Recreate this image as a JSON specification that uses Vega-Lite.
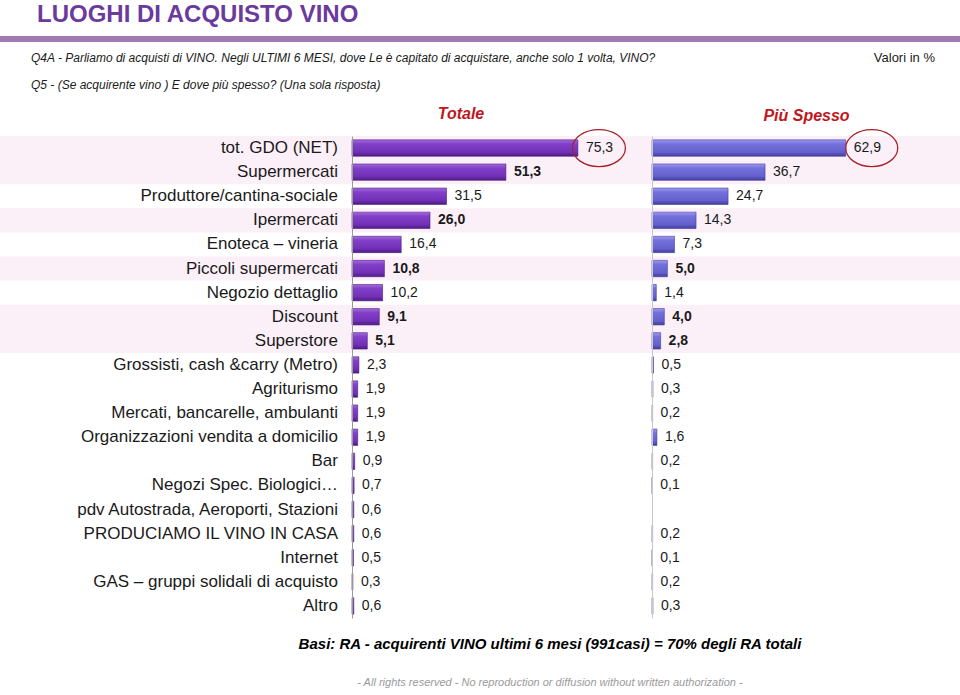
{
  "$schema": "https://vega.github.io/schema/vega-lite/v6.json",
  "padding": {"top": 3, "left": 0, "right": 0, "bottom": 0},
  "background": "#ffffff",
  "config": {
    "view": {"stroke": null},
    "font": "Liberation Sans",
    "locale": {"number": {"decimal": ",", "thousands": ".", "grouping": [3], "currency": ["€", ""]}},
    "concat": {"spacing": 0}
  },
  "datasets": {
    "luoghi": [
      {"luogo": "tot. GDO (NET)", "gruppo": "GDO", "totale": 75.3, "piu_spesso": 62.9},
      {"luogo": "Supermercati", "gruppo": "GDO", "totale": 51.3, "piu_spesso": 36.7},
      {"luogo": "Produttore/cantina-sociale", "gruppo": "Altri", "totale": 31.5, "piu_spesso": 24.7},
      {"luogo": "Ipermercati", "gruppo": "GDO", "totale": 26.0, "piu_spesso": 14.3},
      {"luogo": "Enoteca – vineria", "gruppo": "Altri", "totale": 16.4, "piu_spesso": 7.3},
      {"luogo": "Piccoli supermercati", "gruppo": "GDO", "totale": 10.8, "piu_spesso": 5.0},
      {"luogo": "Negozio dettaglio", "gruppo": "Altri", "totale": 10.2, "piu_spesso": 1.4},
      {"luogo": "Discount", "gruppo": "GDO", "totale": 9.1, "piu_spesso": 4.0},
      {"luogo": "Superstore", "gruppo": "GDO", "totale": 5.1, "piu_spesso": 2.8},
      {"luogo": "Grossisti, cash &carry (Metro)", "gruppo": "Altri", "totale": 2.3, "piu_spesso": 0.5},
      {"luogo": "Agriturismo", "gruppo": "Altri", "totale": 1.9, "piu_spesso": 0.3},
      {"luogo": "Mercati, bancarelle, ambulanti", "gruppo": "Altri", "totale": 1.9, "piu_spesso": 0.2},
      {"luogo": "Organizzazioni vendita a domicilio", "gruppo": "Altri", "totale": 1.9, "piu_spesso": 1.6},
      {"luogo": "Bar", "gruppo": "Altri", "totale": 0.9, "piu_spesso": 0.2},
      {"luogo": "Negozi Spec. Biologici…", "gruppo": "Altri", "totale": 0.7, "piu_spesso": 0.1},
      {"luogo": "pdv Autostrada, Aeroporti, Stazioni", "gruppo": "Altri", "totale": 0.6, "piu_spesso": null},
      {"luogo": "PRODUCIAMO IL VINO IN CASA", "gruppo": "Altri", "totale": 0.6, "piu_spesso": 0.2},
      {"luogo": "Internet", "gruppo": "Altri", "totale": 0.5, "piu_spesso": 0.1},
      {"luogo": "GAS – gruppi solidali di acquisto", "gruppo": "Altri", "totale": 0.3, "piu_spesso": 0.2},
      {"luogo": "Altro", "gruppo": "Altri", "totale": 0.6, "piu_spesso": 0.3}
    ]
  },
  "title": {"text": "LUOGHI DI ACQUISTO VINO", "anchor": "start", "dx": 37, "fontSize": 24, "fontWeight": "bold", "color": "#6A3A9C", "offset": 9},
  "spacing": 10,
  "vconcat": [
    {
      "width": 960, "height": 6,
      "data": {"values": [{}]},
      "mark": {"type": "rect", "color": "#A27BAE"},
      "encoding": {}
    },
    {
      "spacing": 0,
      "bounds": "flush",
      "title": {
        "text": "Basi:  RA - acquirenti  VINO ultimi 6 mesi  (991casi) = 70% degli RA totali",
        "subtitle": "- All rights reserved -  No reproduction or diffusion without written authorization -",
        "orient": "bottom", "anchor": "middle", "dx": 70, "offset": 19,
        "fontSize": 15, "fontWeight": "bold", "fontStyle": "italic", "color": "#000000",
        "subtitleFontSize": 11, "subtitleFontStyle": "italic", "subtitleColor": "#9a9a9a", "subtitlePadding": 25
      },
      "hconcat": [
        {
          "width": 352, "height": 482,
          "data": {"name": "luoghi"},
          "title": {
            "text": "Q4A - Parliamo di acquisti di VINO. Negli ULTIMI 6 MESI, dove Le è capitato di acquistare, anche solo 1 volta, VINO?",
            "subtitle": "Q5 -   (Se acquirente vino ) E dove più spesso? (Una sola risposta)",
            "anchor": "start", "dx": 31, "offset": 44,
            "fontSize": 12, "fontWeight": "normal", "fontStyle": "italic", "color": "#1a1a1a",
            "subtitleFontSize": 12, "subtitleFontStyle": "italic", "subtitleColor": "#1a1a1a", "subtitlePadding": 15
          },
          "encoding": {"y": {"field": "luogo", "type": "nominal", "axis": null,
            "scale": {"paddingInner": 0, "paddingOuter": 0, "domain": ["tot. GDO (NET)", "Supermercati", "Produttore/cantina-sociale", "Ipermercati", "Enoteca – vineria", "Piccoli supermercati", "Negozio dettaglio", "Discount", "Superstore", "Grossisti, cash &carry (Metro)", "Agriturismo", "Mercati, bancarelle, ambulanti", "Organizzazioni vendita a domicilio", "Bar", "Negozi Spec. Biologici…", "pdv Autostrada, Aeroporti, Stazioni", "PRODUCIAMO IL VINO IN CASA", "Internet", "GAS – gruppi solidali di acquisto", "Altro"]}}},
          "layer": [
            {"transform": [{"filter": "datum.gruppo === 'GDO'"}], "mark": {"type": "rect", "color": "#FBEFF8"}},
            {
              "mark": {"type": "text", "align": "right", "baseline": "middle", "dx": -14, "fontSize": 17, "color": "#1a1a1a"},
              "encoding": {
                "x": {"datum": 1, "type": "quantitative", "scale": {"domain": [0, 1]}, "axis": null},
                "text": {"field": "luogo"}
              }
            }
          ]
        },
        {
          "width": 300, "height": 482,
          "data": {"name": "luoghi"},
          "title": {"text": "Totale", "anchor": "middle", "dx": -41, "offset": 5, "fontSize": 16, "fontWeight": "bold", "fontStyle": "italic", "color": "#C0161C"},
          "encoding": {"y": {"field": "luogo", "type": "nominal", "axis": {"labels": false, "ticks": false, "title": null, "domainColor": "#9a9a9a", "domainWidth": 1},
            "scale": {"paddingInner": 0, "paddingOuter": 0, "domain": ["tot. GDO (NET)", "Supermercati", "Produttore/cantina-sociale", "Ipermercati", "Enoteca – vineria", "Piccoli supermercati", "Negozio dettaglio", "Discount", "Superstore", "Grossisti, cash &carry (Metro)", "Agriturismo", "Mercati, bancarelle, ambulanti", "Organizzazioni vendita a domicilio", "Bar", "Negozi Spec. Biologici…", "pdv Autostrada, Aeroporti, Stazioni", "PRODUCIAMO IL VINO IN CASA", "Internet", "GAS – gruppi solidali di acquisto", "Altro"]}}},
          "layer": [
            {"transform": [{"filter": "datum.gruppo === 'GDO'"}], "mark": {"type": "rect", "color": "#FBEFF8"}},
            {
              "mark": {"type": "bar", "height": {"band": 0.68}, "stroke": "#4E1C82", "strokeWidth": 0.6,
                "color": {"gradient": "linear", "x1": 0, "y1": 0, "x2": 0, "y2": 1, "stops": [
                  {"offset": 0, "color": "#A46CDC"}, {"offset": 0.25, "color": "#8140C8"}, {"offset": 0.75, "color": "#7130B5"}, {"offset": 1, "color": "#4E1C82"}]}},
              "encoding": {"x": {"field": "totale", "type": "quantitative", "scale": {"domain": [0, 97.7]}, "axis": null}}
            },
            {
              "transform": [{"filter": "!(datum.gruppo === 'GDO' && datum.luogo !== 'tot. GDO (NET)')"}],
              "mark": {"type": "text", "align": "left", "baseline": "middle", "dx": 8, "fontSize": 14, "color": "#1a1a1a"},
              "encoding": {"x": {"field": "totale", "type": "quantitative", "axis": null}, "text": {"field": "totale", "format": ".1f"}}
            },
            {
              "transform": [{"filter": "datum.gruppo === 'GDO' && datum.luogo !== 'tot. GDO (NET)'"}],
              "mark": {"type": "text", "align": "left", "baseline": "middle", "dx": 8, "fontSize": 14, "fontWeight": "bold", "color": "#1a1a1a"},
              "encoding": {"x": {"field": "totale", "type": "quantitative", "axis": null}, "text": {"field": "totale", "format": ".1f"}}
            },
            {
              "transform": [{"filter": "datum.luogo === 'tot. GDO (NET)'"}],
              "mark": {"type": "point", "filled": false, "size": 400, "stroke": "#A8202A", "strokeWidth": 1.3, "opacity": 1,
                "shape": "M4.75,0 C4.75,1.0218 3.5636,1.85 2.1,1.85 C0.6364,1.85 -0.55,1.0218 -0.55,0 C-0.55,-1.0218 0.6364,-1.85 2.1,-1.85 C3.5636,-1.85 4.75,-1.0218 4.75,0 Z"},
              "encoding": {"x": {"field": "totale", "type": "quantitative", "axis": null}}
            }
          ]
        },
        {
          "width": 308, "height": 482,
          "data": {"name": "luoghi"},
          "title": {"text": "Valori in %", "anchor": "end", "dx": -25, "offset": 42, "fontSize": 13, "fontWeight": "normal", "color": "#1a1a1a"},
          "encoding": {"y": {"field": "luogo", "type": "nominal", "axis": {"labels": false, "ticks": false, "title": null, "domainColor": "#c8c8c8", "domainWidth": 1},
            "scale": {"paddingInner": 0, "paddingOuter": 0, "domain": ["tot. GDO (NET)", "Supermercati", "Produttore/cantina-sociale", "Ipermercati", "Enoteca – vineria", "Piccoli supermercati", "Negozio dettaglio", "Discount", "Superstore", "Grossisti, cash &carry (Metro)", "Agriturismo", "Mercati, bancarelle, ambulanti", "Organizzazioni vendita a domicilio", "Bar", "Negozi Spec. Biologici…", "pdv Autostrada, Aeroporti, Stazioni", "PRODUCIAMO IL VINO IN CASA", "Internet", "GAS – gruppi solidali di acquisto", "Altro"]}}},
          "layer": [
            {"transform": [{"filter": "datum.gruppo === 'GDO'"}], "mark": {"type": "rect", "color": "#FBEFF8"}},
            {
              "transform": [{"filter": "isValid(datum.piu_spesso)"}],
              "mark": {"type": "bar", "height": {"band": 0.68}, "stroke": "#433C9E", "strokeWidth": 0.6,
                "color": {"gradient": "linear", "x1": 0, "y1": 0, "x2": 0, "y2": 1, "stops": [
                  {"offset": 0, "color": "#A09AF0"}, {"offset": 0.25, "color": "#7470DC"}, {"offset": 0.75, "color": "#6460CC"}, {"offset": 1, "color": "#433C9E"}]}},
              "encoding": {"x": {"field": "piu_spesso", "type": "quantitative", "scale": {"domain": [0, 99.4]},
                "axis": {"orient": "top", "labels": false, "ticks": false, "domain": false, "grid": false, "title": "Più Spesso", "titleFontSize": 16, "titleFontWeight": "bold", "titleFontStyle": "italic", "titleColor": "#C0161C", "titlePadding": 13}}}
            },
            {
              "transform": [{"filter": "isValid(datum.piu_spesso) && indexof(['Piccoli supermercati', 'Discount', 'Superstore'], datum.luogo) < 0"}],
              "mark": {"type": "text", "align": "left", "baseline": "middle", "dx": 8, "fontSize": 14, "color": "#1a1a1a"},
              "encoding": {"x": {"field": "piu_spesso", "type": "quantitative",
                "axis": {"orient": "top", "labels": false, "ticks": false, "domain": false, "grid": false, "title": "Più Spesso", "titleFontSize": 16, "titleFontWeight": "bold", "titleFontStyle": "italic", "titleColor": "#C0161C", "titlePadding": 13}}, "text": {"field": "piu_spesso", "format": ".1f"}}
            },
            {
              "transform": [{"filter": "isValid(datum.piu_spesso) && indexof(['Piccoli supermercati', 'Discount', 'Superstore'], datum.luogo) >= 0"}],
              "mark": {"type": "text", "align": "left", "baseline": "middle", "dx": 8, "fontSize": 14, "fontWeight": "bold", "color": "#1a1a1a"},
              "encoding": {"x": {"field": "piu_spesso", "type": "quantitative",
                "axis": {"orient": "top", "labels": false, "ticks": false, "domain": false, "grid": false, "title": "Più Spesso", "titleFontSize": 16, "titleFontWeight": "bold", "titleFontStyle": "italic", "titleColor": "#C0161C", "titlePadding": 13}}, "text": {"field": "piu_spesso", "format": ".1f"}}
            },
            {
              "transform": [{"filter": "datum.luogo === 'tot. GDO (NET)'"}],
              "mark": {"type": "point", "filled": false, "size": 400, "stroke": "#A8202A", "strokeWidth": 1.3, "opacity": 1,
                "shape": "M5.2,0 C5.2,1.0218 4.0359,1.85 2.6,1.85 C1.1641,1.85 0,1.0218 0,0 C0,-1.0218 1.1641,-1.85 2.6,-1.85 C4.0359,-1.85 5.2,-1.0218 5.2,0 Z"},
              "encoding": {"x": {"field": "piu_spesso", "type": "quantitative",
                "axis": {"orient": "top", "labels": false, "ticks": false, "domain": false, "grid": false, "title": "Più Spesso", "titleFontSize": 16, "titleFontWeight": "bold", "titleFontStyle": "italic", "titleColor": "#C0161C", "titlePadding": 13}}}
            }
          ]
        }
      ]
    }
  ]
}
